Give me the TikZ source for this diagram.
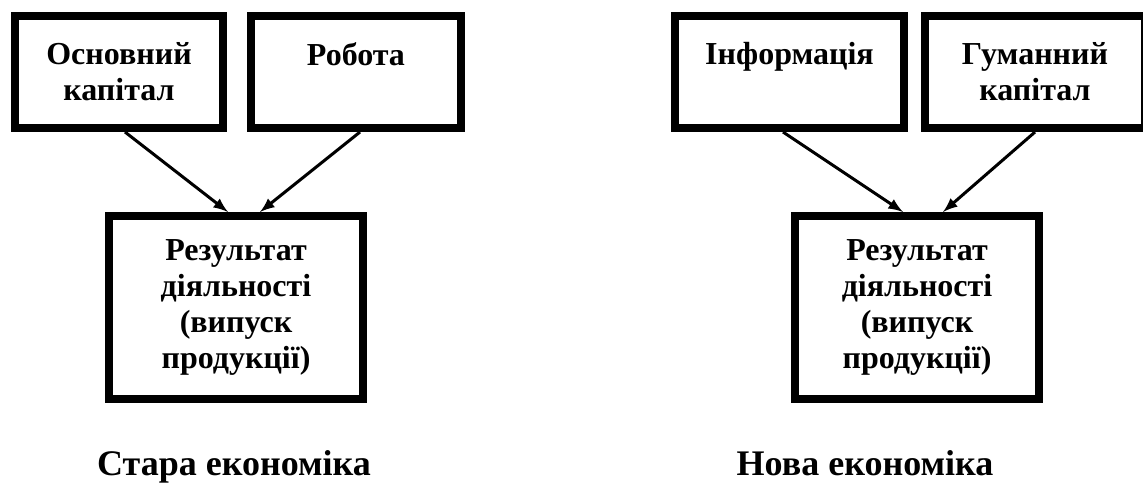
\documentclass[tikz,border=0pt]{standalone}
\usepackage{fontspec}
\setmainfont{Liberation Serif}
\usetikzlibrary{positioning,arrows}

\begin{document}
\begin{tikzpicture}[x=0.5pt, y=-0.5pt,
    box/.style={rectangle, draw=black, line width=4pt, align=center, inner sep=0pt,
        text=black, font=\bfseries\fontsize{16pt}{18pt}\selectfont, minimum height=56pt},
    result/.style={box, minimum height=91.5pt},
    caption/.style={anchor=base, text=black, font=\bfseries\fontsize{18pt}{21pt}\selectfont},
    link/.style={line width=1.5pt, -latex}
]
\useasboundingbox (0,0) rectangle (1143,484);

% old economy
\node [box, minimum width=104pt] (OldCap) at (119,72) {Основний\\капітал};
\node [box, minimum width=105pt] (OldWork) at (356,72) {Робота\\\phantom{капітал}};
\node [result, minimum width=127pt] (OldRes) at (236,307.5) {Результат\\діяльності\\(випуск\\продукції)};
\node [caption] (OldTitle) at (234,475) {Стара економіка};

\draw [link] ([xshift=3pt]OldCap.south) -- ([xshift=-4pt]OldRes.north);
\draw [link] ([xshift=2pt]OldWork.south) -- ([xshift=12pt]OldRes.north);

% new economy
\node [box, minimum width=114.5pt] (NewInfo) at (789.5,72) {Інформація\\\phantom{капітал}};
\node [box, minimum width=110pt] (NewHum) at (1035,72) {Гуманний\\капітал};
\node [result, minimum width=122pt] (NewRes) at (917,307.5) {Результат\\діяльності\\(випуск\\продукції)};
\node [caption] (NewTitle) at (865,475) {Нова економіка};

\draw [link] ([xshift=-3.25pt]NewInfo.south) -- ([xshift=-7pt]NewRes.north);
\draw [link] (NewHum.south) -- ([xshift=13pt]NewRes.north);

\end{tikzpicture}
\end{document}
